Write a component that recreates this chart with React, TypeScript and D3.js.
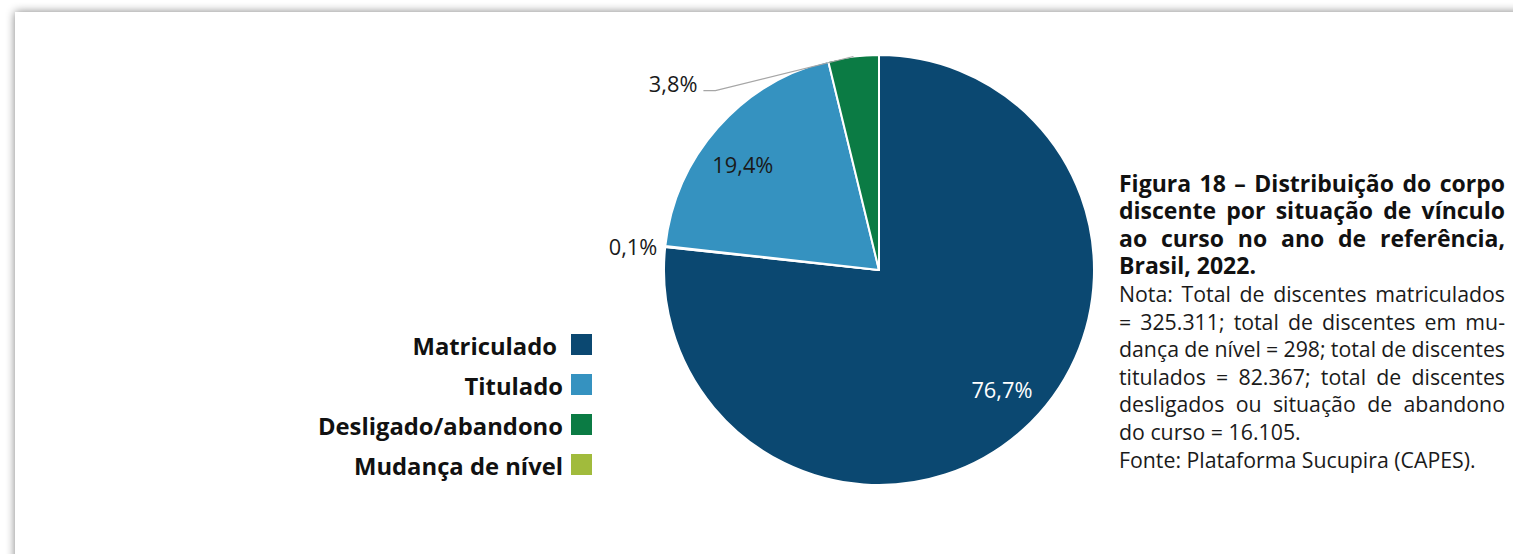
import React, { useRef, useEffect } from "react";
import * as d3 from "d3";

// categories in legend order
const categories = ["Matriculado", "Titulado", "Desligado/abandono", "Mudança de nível"];
const counts = [325311, 82367, 16105, 298];
const colors = ["#0b4871", "#3592c0", "#0b7b44", "#a1bb3c"];
// slices go clockwise from 12 o'clock in this order
const sliceOrder = ["Matriculado", "Mudança de nível", "Titulado", "Desligado/abandono"];

const titleLines = [
  "Figura 18 – Distribuição do corpo",
  "discente por situação de vínculo",
  "ao curso no ano de referência,",
  "Brasil, 2022.",
];
const noteLines = [
  "Nota: Total de discentes matriculados",
  "= 325.311; total de discentes em mu-",
  "dança de nível = 298; total de discentes",
  "titulados = 82.367; total de discentes",
  "desligados ou situação de abandono",
  "do curso = 16.105.",
];
const sourceLine = "Fonte: Plataforma Sucupira (CAPES).";

const W = 1513;
const H = 554;
const FONT = "'Open Sans', 'Noto Sans', sans-serif";

const App: React.FC = () => {
  const svgRef = useRef<SVGSVGElement>(null);

  useEffect(() => {
    const svg = d3.select(svgRef.current);
    svg.selectAll("*").remove();

    // card with soft shadow
    const defs = svg.append("defs");
    const f = defs
      .append("filter")
      .attr("id", "shadow")
      .attr("x", "-10%")
      .attr("y", "-10%")
      .attr("width", "120%")
      .attr("height", "120%");
    f.append("feGaussianBlur").attr("in", "SourceAlpha").attr("stdDeviation", 5);
    f.append("feComponentTransfer")
      .append("feFuncA")
      .attr("type", "linear")
      .attr("slope", 0.5);
    svg.append("rect").attr("width", W).attr("height", H).attr("fill", "#fff");
    svg
      .append("rect")
      .attr("x", 15)
      .attr("y", 12)
      .attr("width", W + 100)
      .attr("height", H + 100)
      .attr("fill", "#000")
      .attr("filter", "url(#shadow)");
    svg
      .append("rect")
      .attr("x", 15)
      .attr("y", 12)
      .attr("width", W + 100)
      .attr("height", H + 100)
      .attr("fill", "#fff");

    // pie
    const cx = 879;
    const cy = 270;
    const r = 215;
    const total = d3.sum(counts);
    const fmt = (v: number) => d3.format(".1f")((v / total) * 100).replace(".", ",") + "%";
    const color = d3.scaleOrdinal<string, string>().domain(categories).range(colors);

    const pieData = sliceOrder.map((name) => ({ name, value: counts[categories.indexOf(name)] }));
    const arcs = d3
      .pie<{ name: string; value: number }>()
      .sort(null)
      .value((d) => d.value)(pieData);

    const arc = d3
      .arc<d3.PieArcDatum<{ name: string; value: number }>>()
      .innerRadius(0)
      .outerRadius(r);

    const g = svg.append("g").attr("transform", `translate(${cx},${cy})`);
    g.selectAll("path")
      .data(arcs)
      .enter()
      .append("path")
      .attr("d", arc as any)
      .attr("fill", (d) => color(d.data.name))
      .attr("stroke", "#fff")
      .attr("stroke-width", 2)
      .attr("stroke-linejoin", "round");

    const polar = (a: number, rad: number): [number, number] => [
      rad * Math.sin(a),
      -rad * Math.cos(a),
    ];
    const nudge = (-3.7 * Math.PI) / 180;
    const labelSize = 21.8;

    arcs.forEach((d) => {
      const mid = (d.startAngle + d.endAngle) / 2;
      const label = fmt(d.value);
      if (d.endAngle - d.startAngle > 0.5) {
        const [x, y] = polar(mid + nudge, 172);
        g.append("text")
          .attr("x", x)
          .attr("y", y)
          .attr("dy", "0.35em")
          .attr("text-anchor", "middle")
          .attr("font-family", FONT)
          .attr("font-size", labelSize)
          .attr("fill", d.data.name === "Matriculado" ? "#fff" : "#1a1a1a")
          .text(label);
      } else if (d.data.name === "Desligado/abandono") {
        const [x0, y0] = polar(mid, r);
        const elbow: [number, number] = [x0 - 138, y0 + 34];
        const end: [number, number] = [elbow[0] - 12, elbow[1]];
        g.append("path")
          .attr("d", d3.line()([[x0, y0], elbow, end]) as string)
          .attr("fill", "none")
          .attr("stroke", "#a6a6a6")
          .attr("stroke-width", 1.2);
        g.append("text")
          .attr("x", end[0] - 6)
          .attr("y", end[1] + 1)
          .attr("text-anchor", "end")
          .attr("font-family", FONT)
          .attr("font-size", labelSize)
          .attr("fill", "#1a1a1a")
          .text(label);
      } else {
        const [x0, y0] = polar(mid, r);
        g.append("text")
          .attr("x", x0 - 8)
          .attr("y", y0 + 1)
          .attr("dy", "0.35em")
          .attr("text-anchor", "end")
          .attr("font-family", FONT)
          .attr("font-size", labelSize)
          .attr("fill", "#1a1a1a")
          .text(label);
      }
    });

    // legend
    const legend = svg.append("g");
    const lx = 571;
    const ly = 334;
    const step = 40;
    const sq = 21;
    categories.forEach((c, i) => {
      legend
        .append("rect")
        .attr("x", lx)
        .attr("y", ly + i * step)
        .attr("width", sq)
        .attr("height", sq)
        .attr("fill", color(c));
      legend
        .append("text")
        .attr("x", i === 0 ? lx - 14 : lx - 8)
        .attr("y", ly + i * step + sq)
        .attr("text-anchor", "end")
        .attr("font-family", FONT)
        .attr("font-weight", 700)
        .attr("font-size", 23.8)
        .attr("fill", "#111")
        .text(c);
    });

    // justified text block
    const tx = 1119;
    const tw = 386;
    const base0 = 191.5;
    const lh = 27.6;
    const titleSize = 23;
    const bodySize = 21.3;
    const block = svg.append("g");
    const lines: { text: string; bold: boolean; justify: boolean }[] = [
      ...titleLines.map((t, i) => ({ text: t, bold: true, justify: i < titleLines.length - 1 })),
      ...noteLines.map((t, i) => ({ text: t, bold: false, justify: i < noteLines.length - 1 })),
      { text: sourceLine, bold: false, justify: false },
    ];
    lines.forEach((ln, i) => {
      const y = base0 + i * lh;
      const size = ln.bold ? titleSize : bodySize;
      const words = ln.text.split(" ");
      const nodes = words.map((w) =>
        block
          .append("text")
          .attr("y", y)
          .attr("font-family", FONT)
          .attr("font-weight", ln.bold ? 700 : 400)
          .attr("font-size", size)
          .attr("fill", ln.bold ? "#111" : "#1a1a1a")
          .text(w)
      );
      const widths = nodes.map((n) => (n.node() as SVGTextElement).getComputedTextLength());
      const sum = d3.sum(widths);
      const space = size * 0.26;
      const gap = ln.justify && words.length > 1 ? (tw - sum) / (words.length - 1) : space;
      let x = tx;
      nodes.forEach((n, k) => {
        n.attr("x", x);
        x += widths[k] + gap;
      });
    });
  }, []);

  return (
    <svg
      ref={svgRef}
      width={W}
      height={H}
      style={{ position: "absolute", left: 0, top: 0, display: "block" }}
    />
  );
};

export default App;
